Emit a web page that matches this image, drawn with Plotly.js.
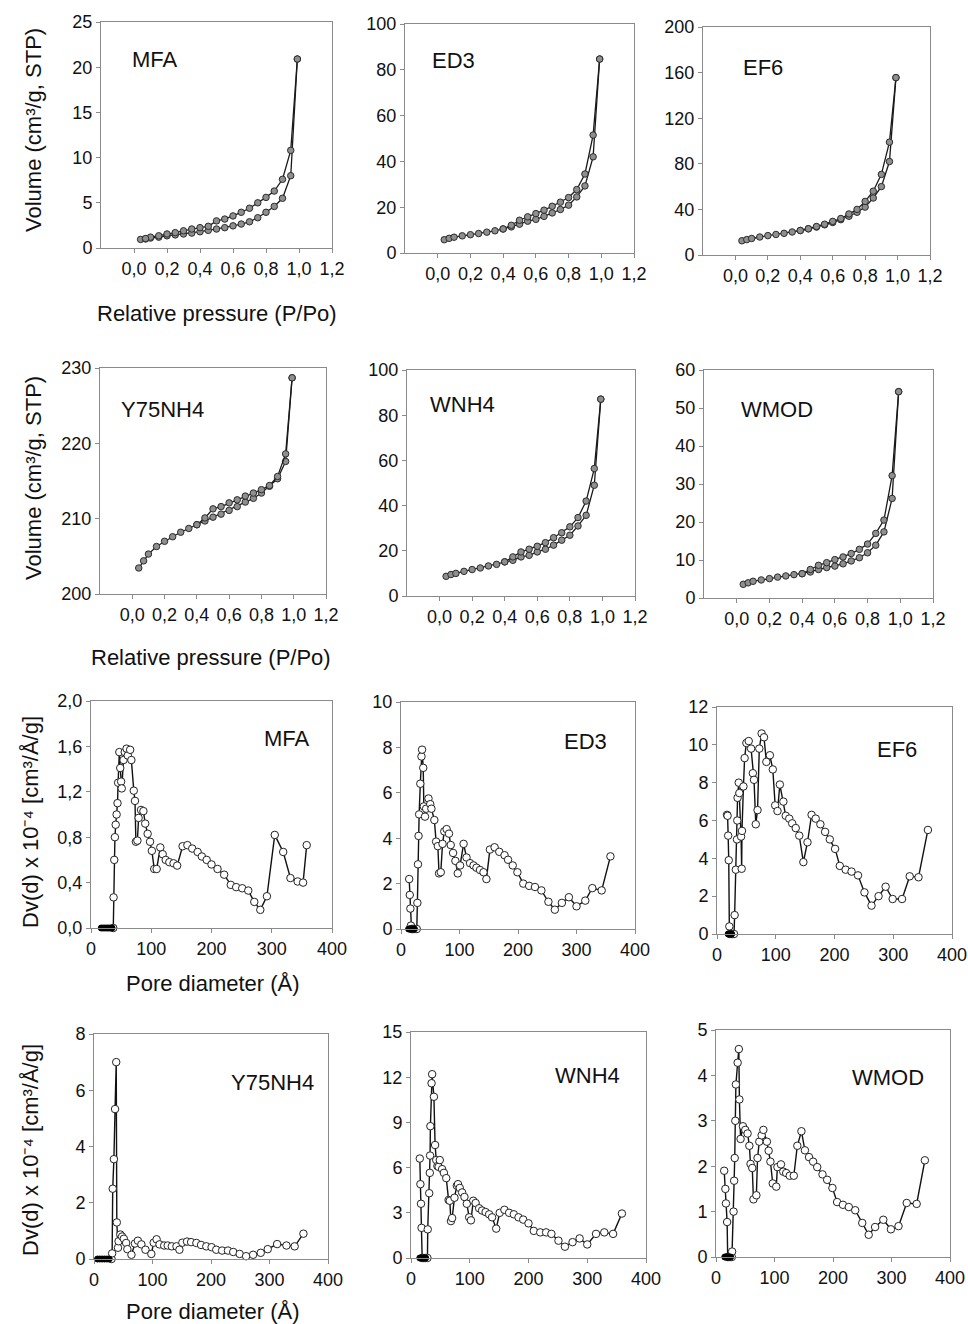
<!DOCTYPE html>
<html><head><meta charset="utf-8">
<script src="https://cdn.plot.ly/plotly-3.0.1.min.js"></script>
<style>html,body{margin:0;padding:0;background:#fff}#chart{width:968px;height:1324px}</style>
</head><body><div id="chart"></div>
<script>
// ---------- Isotherm data (relative pressure P/Po, volume cm3/g STP) ----------
const pAds = [0.04,0.07,0.1,0.15,0.2,0.25,0.3,0.35,0.4,0.45,0.5,0.55,0.6,0.65,0.7,0.75,0.8,0.85,0.9,0.95,0.99];
const pDes = [0.99,0.95,0.9,0.85,0.8,0.75,0.7,0.65,0.6,0.55,0.5,0.45,0.4,0.35,0.3,0.25,0.2,0.15,0.1,0.07];
const isoXTicks = [0,0.2,0.4,0.6,0.8,1.0,1.2];

const mfaVAds = [0.95,1.0,1.1,1.2,1.35,1.45,1.55,1.65,1.8,1.95,2.1,2.25,2.45,2.65,2.9,3.35,3.95,4.6,5.5,8.0,20.9];
const mfaVDes = [20.9,10.8,7.6,6.3,5.6,5.0,4.4,3.95,3.55,3.2,3.0,2.4,2.25,2.1,1.9,1.7,1.55,1.35,1.2,1.05];

const ed3VAds = [5.8,6.4,6.9,7.5,8.0,8.5,9.1,9.7,10.5,11.4,12.6,13.9,14.7,16.0,17.5,19.0,20.9,24.5,29.3,42.0,84.7];
const ed3VDes = [84.7,51.5,34.5,27.7,24.2,22.2,20.4,18.7,17.2,15.8,14.3,12.1,10.5];

const ef6VAds = [12.5,13.5,14.5,15.8,17.0,18.0,19.0,20.2,21.5,23.0,24.5,26.5,28.5,31.0,34.0,37.5,42.0,50.0,60.0,82.0,155.6];
const ef6VDes = [155.6,99.0,70.7,56.0,47.0,40.0,36.0,32.0,29.5,27.0,25.0,23.0,21.5];

const y75VAds = [203.45,204.4,205.3,206.3,207.0,207.6,208.2,208.7,209.2,209.7,210.2,210.6,211.1,211.6,212.2,212.7,213.4,214.3,215.3,217.6,228.7];
const y75VDes = [228.7,218.6,215.6,214.4,213.85,213.4,213.0,212.5,212.1,211.6,211.3,210.1,209.2];

const wnh4VAds = [8.7,9.5,10.0,10.9,11.7,12.4,13.3,14.0,15.1,15.8,17.3,18.0,19.5,20.7,22.5,24.7,26.9,31.0,35.7,49.0,87.1];
const wnh4VDes = [87.1,56.4,42.0,34.7,30.6,28.0,25.8,23.6,22.0,20.7,19.5,17.3,15.1];

const wmodVAds = [3.6,4.0,4.4,4.75,5.1,5.5,5.8,6.15,6.4,6.85,7.5,8.0,8.4,9.0,9.75,10.6,11.9,13.9,17.4,26.2,54.3];
const wmodVDes = [54.3,32.2,20.5,17.0,14.2,12.8,11.7,10.8,10.1,9.3,8.6,7.5,6.4];

// ---------- Pore size distribution data (pore diameter Å, Dv(d) x 1e-4) ----------
const mfaD  = [37,37.5,38.6,39.7,41,42.5,44,45,47,48.5,50,51,54,56,59,61,65,67,71,73,74.5,77,79,83,87,90,94,98,101,105,109,115,119,124,130,137,143,152,160,168,177,184,192,200,210,221,232,241,251,261,271,281,292,305,319,331,343,352,358];
const mfaDv = [0,0.27,0.6,0.8,0.91,1.0,1.1,1.28,1.55,1.41,1.29,1.23,1.48,1.55,1.58,1.52,1.57,1.48,1.21,1.12,0.76,0.77,0.97,1.04,1.03,0.92,0.83,0.76,0.68,0.52,0.52,0.71,0.65,0.6,0.58,0.57,0.55,0.72,0.73,0.70,0.67,0.63,0.60,0.56,0.52,0.47,0.38,0.36,0.35,0.33,0.23,0.16,0.28,0.82,0.67,0.44,0.41,0.40,0.73];
const mfaZeroD = [17,20,23,26,29,32,35];
const mfaZeroV = [0,0,0,0,0,0,0];

const ed3D  = [14,15,16,17,18,20,22,24,27,28,29,30,31,33,35,36,38,39,41,43,47,50,52,57,60,63,65,68,71,74,78,82,85,89,93,97,101,107,112,118,124,129,135,141,146,152,160,168,177,183,191,199,209,219,229,240,252,263,275,287,300,315,327,343,358];
const ed3Dv = [2.2,1.5,0.9,0.15,0,0,0,0,0,1.15,2.85,4.1,5.05,6.4,7.6,7.9,7.1,5.4,4.95,5.3,5.75,5.5,5.3,4.8,3.85,3.65,2.45,2.5,3.75,4.3,4.4,4.2,3.7,3.35,3.0,2.45,2.8,3.75,3.15,2.9,2.8,2.7,2.6,2.5,2.2,3.5,3.6,3.4,3.25,3.05,2.8,2.5,2.0,1.9,1.85,1.7,1.2,0.85,1.15,1.4,1.0,1.25,1.8,1.7,3.2];
const ed3ZeroD = [13,15,17,19,21,23];
const ed3ZeroV = [0,0,0,0,0,0];

const ef6D  = [17,18,19,20,21,22,24,26,29,30,32,34,34.5,35,37,38,41,42,42.5,45,47,50,54,58,61,63,66,69,72,76,80,84,90,95,99,103,107,113,117,123,128,134,140,147,154,161,168,176,184,192,201,209,219,229,240,251,263,275,287,299,315,328,343,359];
const ef6Dv = [6.3,6.25,5.2,3.9,0.4,0,0,0,0,1.0,3.4,5.0,6.0,7.2,8.0,7.45,5.15,3.45,5.45,7.8,9.3,10.1,10.2,9.8,8.5,8.15,5.8,6.55,9.8,10.6,10.4,9.1,9.45,8.7,6.8,6.5,7.9,7.0,6.25,6.1,5.85,5.6,5.2,3.8,4.85,6.3,6.1,5.8,5.4,5.0,4.5,3.6,3.4,3.3,3.1,2.2,1.5,2.0,2.5,1.85,1.85,3.05,3.0,5.5];
const ef6ZeroD = [19,21,23,25];
const ef6ZeroV = [0,0,0,0];

const y75D  = [30,31,32,34,36,38,39,41,42,45,48,51,55,57,64,70,75,81,88,98,102,107,112,120,126,133,141,146,151,159,166,175,183,192,201,209,219,229,238,249,260,272,285,297,313,329,343,358];
const y75Dv = [0,0.2,2.5,3.55,5.33,7.0,1.3,0.4,0.63,0.87,0.8,0.72,0.57,0.35,0.15,0.55,0.65,0.52,0.33,0.18,0.58,0.7,0.52,0.48,0.48,0.45,0.45,0.33,0.58,0.62,0.6,0.57,0.5,0.45,0.42,0.33,0.3,0.3,0.25,0.18,0.1,0.15,0.22,0.35,0.53,0.48,0.45,0.9];
const y75ZeroD = [6,10,14,18,22,26];
const y75ZeroV = [0,0,0,0,0,0];

const wnh4D  = [15,16,17,18,19,22,25,28,28.5,31,32,32.5,33,35,36,39,41,43,45,47,49,53,56,60,64,66,68,70,74,78,80,83,87,91,95,99,102,106,110,116,121,127,133,138,145,151,159,167,175,183,191,200,209,220,230,239,251,262,275,287,300,315,329,344,359];
const wnh4Dv = [6.6,4.9,3.6,2.0,0,0,0,0,1.9,4.3,5.65,6.8,8.75,11.6,12.2,10.7,7.5,6.5,6.1,6.05,6.5,5.9,5.65,5.3,3.85,3.8,2.45,2.65,4.0,4.8,4.9,4.65,4.35,4.05,3.6,2.7,2.5,3.8,3.65,3.3,3.15,3.05,2.9,2.7,1.95,3.0,3.2,3.0,2.9,2.7,2.55,2.3,1.8,1.7,1.7,1.6,1.15,0.75,1.05,1.3,0.9,1.6,1.7,1.6,2.95];
const wnh4ZeroD = [15,17,19,21,23,25];
const wnh4ZeroV = [0,0,0,0,0,0];

const wmodD  = [14,16,17,19,20,22,24,27,27.5,30,31,32,33,34,37,39,40,42,46,50,54,57,59,62,64,69,71,74,78,81,87,90,93,97,103,105,111,115,120,126,133,139,146,152,159,166,173,182,190,199,207,217,227,238,250,261,272,286,299,312,326,343,357];
const wmodDv = [1.9,1.5,1.18,0.77,0,0,0,0,0.12,1.0,1.68,2.18,3.0,3.8,4.28,4.58,3.47,2.6,2.88,2.8,2.72,2.45,2.05,1.96,1.27,1.36,2.18,2.54,2.68,2.8,2.54,2.34,2.1,1.62,1.55,1.98,2.04,1.88,1.85,1.79,1.79,2.45,2.77,2.35,2.2,2.1,1.98,1.82,1.7,1.52,1.21,1.15,1.1,1.03,0.75,0.49,0.66,0.82,0.61,0.68,1.19,1.17,2.13];
const wmodZeroD = [15,17,19,21,23,25];
const wmodZeroV = [0,0,0,0,0,0];

const sampleLabels = ['MFA','ED3','EF6','Y75NH4','WNH4','WMOD'];

// ---------- Layout / styling ----------
const W = 968, H = 1324;
const FONT = 'Liberation Sans, Arial, sans-serif';
// plot boxes in pixels: [left, right, top, bottom]
const boxes = [
  [101,332,22,248],[405,634,24,253],[703,930,27,255],
  [100,326,368,594],[407,635,370,596],[704,933,370,598],
  [91,332,701,928],[401,635,702,929],[717,952,707,934],
  [94,328,1034,1259],[411,646,1032,1258],[716,950,1030,1257]
];
const isoPanels = [
  {ads: mfaVAds, des: mfaVDes, yr:[0,25], dt:5, lx:155, ly:60},
  {ads: ed3VAds, des: ed3VDes, yr:[0,100], dt:20, lx:453, ly:61},
  {ads: ef6VAds, des: ef6VDes, yr:[0,200], dt:40, lx:763, ly:67},
  {ads: y75VAds, des: y75VDes, yr:[200,230], dt:10, lx:162, ly:409},
  {ads: wnh4VAds, des: wnh4VDes, yr:[0,100], dt:20, lx:462, ly:404},
  {ads: wmodVAds, des: wmodVDes, yr:[0,60], dt:10, lx:777, ly:409}
];
const psdPanels = [
  {d: mfaD, v: mfaDv, zd: mfaZeroD, zv: mfaZeroV, yr:[0,2], dt:0.4, fmt:'.1f', lx:287, ly:738},
  {d: ed3D, v: ed3Dv, zd: ed3ZeroD, zv: ed3ZeroV, yr:[0,10], dt:2, fmt:'', lx:585, ly:741},
  {d: ef6D, v: ef6Dv, zd: ef6ZeroD, zv: ef6ZeroV, yr:[0,12], dt:2, fmt:'', lx:897, ly:749},
  {d: y75D, v: y75Dv, zd: y75ZeroD, zv: y75ZeroV, yr:[0,8], dt:2, fmt:'', lx:272, ly:1082},
  {d: wnh4D, v: wnh4Dv, zd: wnh4ZeroD, zv: wnh4ZeroV, yr:[0,15], dt:3, fmt:'', lx:587, ly:1075},
  {d: wmodD, v: wmodDv, zd: wmodZeroD, zv: wmodZeroV, yr:[0,5], dt:1, fmt:'', lx:888, ly:1077}
];

const data = [];
const layout = {
  width: W, height: H, margin:{l:0,r:0,t:0,b:0},
  paper_bgcolor:'#ffffff', plot_bgcolor:'#ffffff',
  showlegend:false, separators:', ',
  font:{family:FONT, size:18, color:'#111'},
  annotations:[]
};

function axName(i){ return i===0 ? '' : String(i+1); }
function baseAxis(){
  return {showline:true, linecolor:'#8a8a8a', linewidth:1, mirror:true,
          ticks:'outside', ticklen:4, tickcolor:'#8a8a8a', tickwidth:1,
          showgrid:false, zeroline:false, fixedrange:true, automargin:false,
          ticklabeloverflow:'allow',
          tickfont:{family:FONT, size:18, color:'#111'}};
}
function setAxes(i, xcfg, ycfg){
  const b = boxes[i], n = axName(i);
  const xa = Object.assign(baseAxis(), xcfg, {domain:[b[0]/W, b[1]/W], anchor:'y'+n});
  const ya = Object.assign(baseAxis(), ycfg, {domain:[1-b[3]/H, 1-b[2]/H], anchor:'x'+n});
  layout['xaxis'+n] = xa; layout['yaxis'+n] = ya;
}
function addLabel(text, px, py, size, angle){
  layout.annotations.push({text:text, x:px/W, y:1-py/H, xref:'paper', yref:'paper',
    xanchor:'center', yanchor:'middle', showarrow:false, textangle:angle||0,
    font:{family:FONT, size:size, color:'#111'}});
}

const isoMarker = {size:6.5, color:'#8f8f8f', line:{color:'#2b2b2b', width:1}};
const isoLine = {color:'#1a1a1a', width:1.3};
isoPanels.forEach((p, k) => {
  const n = axName(k);
  data.push({x:pAds, y:p.ads, mode:'lines+markers', xaxis:'x'+n, yaxis:'y'+n,
             marker:isoMarker, line:isoLine, hoverinfo:'skip'});
  data.push({x:pDes.slice(0, p.des.length), y:p.des, mode:'lines+markers', xaxis:'x'+n, yaxis:'y'+n,
             marker:isoMarker, line:isoLine, hoverinfo:'skip'});
  setAxes(k, {range:[-0.2,1.2], tickmode:'array', tickvals:isoXTicks, tickformat:'.1f'},
             {range:p.yr, dtick:p.dt, tick0:p.yr[0]});
  addLabel(sampleLabels[k], p.lx, p.ly, 22);
});

const psdMarker = {size:7.5, color:'#ffffff', line:{color:'#222', width:1}};
const psdLine = {color:'#111', width:1.4};
psdPanels.forEach((p, k) => {
  const i = k + 6, n = axName(i);
  data.push({x:p.d, y:p.v, mode:'lines+markers', xaxis:'x'+n, yaxis:'y'+n,
             marker:psdMarker, line:psdLine, hoverinfo:'skip', cliponaxis:false});
  data.push({x:p.zd, y:p.zv, mode:'markers', xaxis:'x'+n, yaxis:'y'+n,
             marker:{size:6, color:'#000', line:{color:'#000', width:1}}, hoverinfo:'skip', cliponaxis:false});
  const ycfg = {range:p.yr, dtick:p.dt, tick0:0};
  if (p.fmt) ycfg.tickformat = p.fmt;
  setAxes(i, {range:[0,400], dtick:100, tick0:0}, ycfg);
  addLabel(sampleLabels[k], p.lx, p.ly, 22);
});

// axis titles (Unicode superscripts)
const volTitle = 'Volume (cm\u00B3/g, STP)';
const presTitle = 'Relative pressure (P/Po)';
const dvTitle = 'Dv(d) x 10\u207B\u2074 [cm\u00B3/\u00C5/g]';
const poreTitle = 'Pore diameter (\u00C5)';
addLabel(volTitle, 33, 130, 22, -90);
addLabel(volTitle, 33, 478, 22, -90);
addLabel(presTitle, 217, 313, 22);
addLabel(presTitle, 211, 657, 22);
addLabel(dvTitle, 30, 822, 22, -90);
addLabel(dvTitle, 30, 1150, 22, -90);
addLabel(poreTitle, 213, 983, 22);
addLabel(poreTitle, 213, 1311, 22);

Plotly.newPlot('chart', data, layout, {displayModeBar:false, staticPlot:true});
</script></body></html>
